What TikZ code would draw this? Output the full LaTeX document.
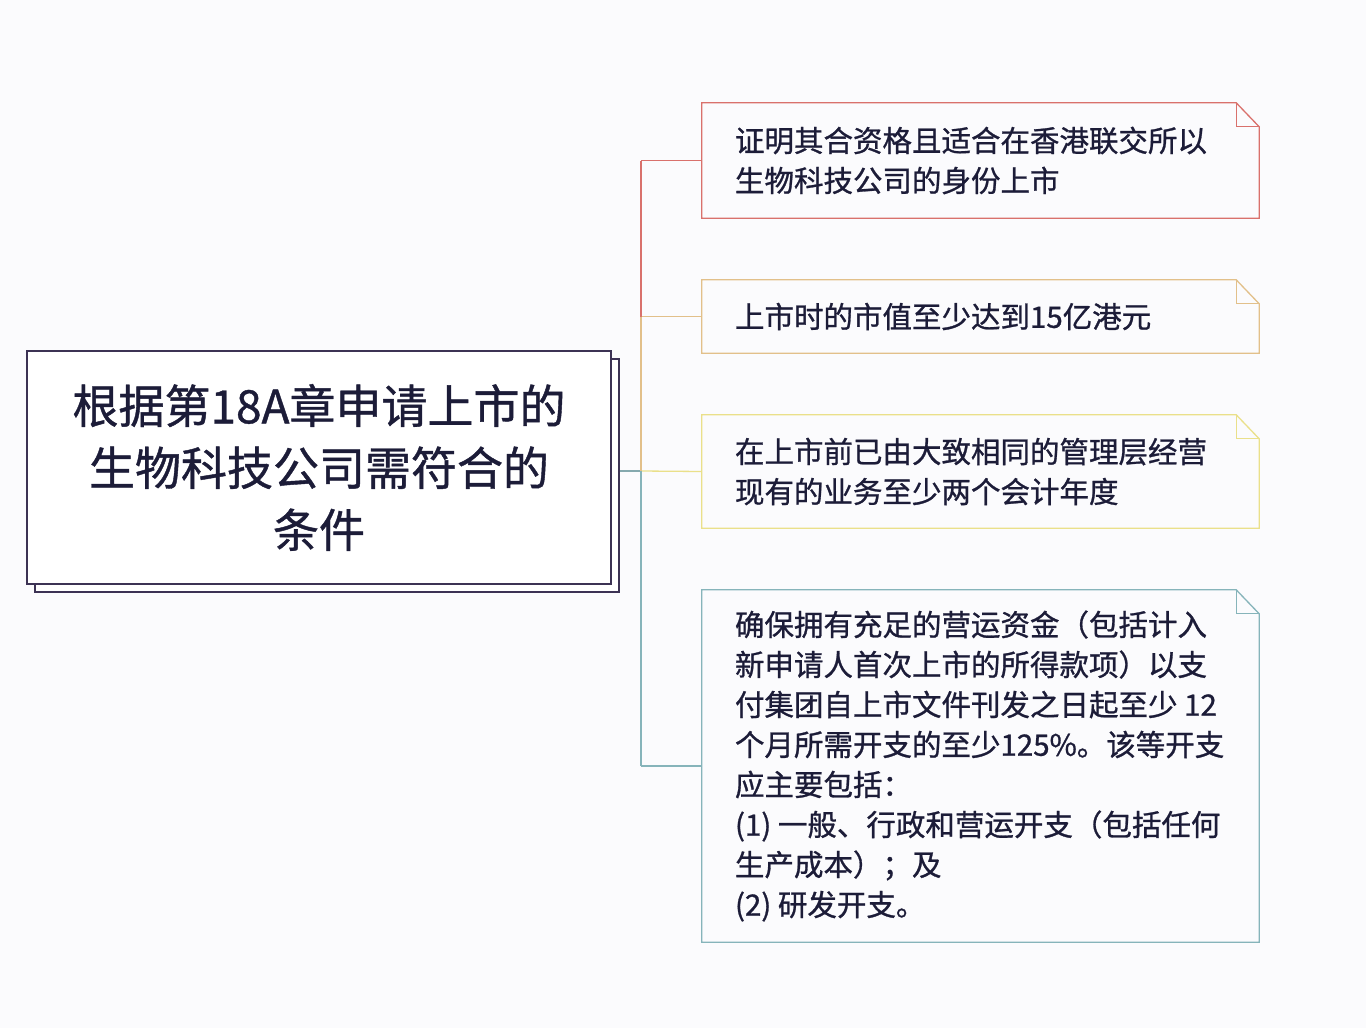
\documentclass[tikz,border=0pt]{standalone}
\usepackage{fontspec}
\setmainfont[FakeBold=0.9]{Noto Sans CJK SC}
\begin{document}
\begin{tikzpicture}[x=1pt,y=-1pt,
  txt/.style={text=textcol},
  rootbox/.style={draw=rootline,line width=1.8pt,fill=white,minimum width=584pt,minimum height=233pt,inner sep=0pt},
  childbox/.style={draw=none,minimum width=557pt,inner sep=0pt},
  childtxt/.style={text=textcol,align=left,anchor=west,inner sep=0pt,font=\fontsize{29.5}{40}\selectfont},
  link/.style={line width=1.3pt}
]
\definecolor{textcol}{HTML}{1C1C38}
\definecolor{rootline}{HTML}{3C3254}
\definecolor{cred}{HTML}{D9716C}
\definecolor{corange}{HTML}{E2C08A}
\definecolor{cyellow}{HTML}{EAE08A}
\definecolor{cteal}{HTML}{86B4BA}
\definecolor{bg}{HTML}{FBFBFD}
\useasboundingbox (0,0) rectangle (1366,1028);
\fill[bg] (0,0) rectangle (1366,1028);

% root with shadow
\node[rootbox] (rootshadow) at (327,475.5) {};
\node[rootbox] (root) at (319,467.5) {};
\node[txt,align=center,inner sep=0pt,font=\fontsize{46}{62}\selectfont] (roottext) at (319,467.5) {根据第18A章申请上市的\\生物科技公司需符合的\\条件};

% child boxes
\node[childbox,minimum height=115pt] (c1) at (980.5,160.5) {};
\node[childbox,minimum height=73pt] (c2) at (980.5,316.5) {};
\node[childbox,minimum height=113pt] (c3) at (980.5,471.5) {};
\node[childbox,minimum height=352pt] (c4) at (980.5,766) {};

\foreach \n/\c in {c1/cred,c2/corange,c3/cyellow,c4/cteal}{
  \draw[\c,line width=1.3pt] (\n.north west) -- ([xshift=-23pt]\n.north east) -- ([yshift=-24pt]\n.north east) -- (\n.south east) -- (\n.south west) -- cycle;
  \draw[\c,line width=1.1pt] ([xshift=-23pt]\n.north east) -- ([xshift=-23pt,yshift=-24pt]\n.north east) -- ([yshift=-24pt]\n.north east);
}

\node[childtxt] (t1) at ([xshift=33pt]c1.west) {证明其合资格且适合在香港联交所以\\生物科技公司的身份上市};
\node[childtxt] (t2) at ([xshift=33pt]c2.west) {上市时的市值至少达到15亿港元};
\node[childtxt] (t3) at ([xshift=33pt]c3.west) {在上市前已由大致相同的管理层经营\\现有的业务至少两个会计年度};
\node[childtxt] (t4) at ([xshift=33pt]c4.west) {确保拥有充足的营运资金（包括计入\\新申请人首次上市的所得款项）以支\\付集团自上市文件刊发之日起至少 12\\个月所需开支的至少125\%。该等开支\\应主要包括：\\(1) 一般、行政和营运开支（包括任何\\生产成本）；及\\(2) 研发开支。};

% connectors
\coordinate (j) at (641,471);
\coordinate (j1) at (641,160.5);
\coordinate (j2) at (641,316.5);
\coordinate (j4) at (641,766);
\draw[link,color=cteal!80!gray] (rootshadow.east |- j) -- (j);
\draw[link,cred] (j1) -- (c1.west);
\draw[link,corange] (j2) -- (c2.west);
\draw[link,cyellow] (j) -- (c3.west);
\draw[link,cteal] (j4) -- (c4.west);
\draw[link,cred] (j1) -- (j2);
\draw[link,corange] (j2) -- (j);
\draw[link,cteal] (j) -- (j4);
\end{tikzpicture}
\end{document}
